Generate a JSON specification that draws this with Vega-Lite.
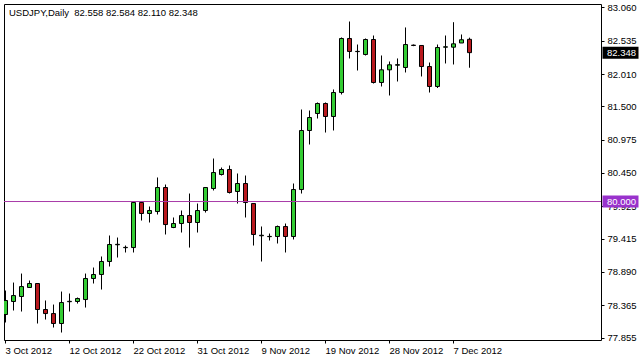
{
  "$schema": "https://vega.github.io/schema/vega-lite/v6.json",
  "width": 597,
  "height": 336,
  "autosize": {"type": "none"},
  "padding": {"left": 4, "top": 4, "right": 41, "bottom": 20},
  "background": "white",
  "config": {
    "view": {"stroke": "#000000", "strokeWidth": 1},
    "font": "Liberation Sans",
    "axis": {"labelOverlap": false, "labelBound": false}
  },
  "title": {
    "text": "USDJPY,Daily\u00a0 82.558 82.584 82.110 82.348",
    "anchor": "start", "frame": "group", "orient": "top",
    "offset": 0, "baseline": "middle", "dx": 5, "dy": 20,
    "font": "Liberation Sans", "fontSize": 9.5, "fontWeight": "normal", "color": "#000000"
  },
  "datasets": {
    "candles": [
      {"date": "2012-10-03", "open": 78.218, "high": 78.596, "low": 78.092, "close": 78.439},
      {"date": "2012-10-04", "open": 78.423, "high": 78.722, "low": 78.281, "close": 78.517},
      {"date": "2012-10-05", "open": 78.502, "high": 78.864, "low": 78.265, "close": 78.659},
      {"date": "2012-10-07", "open": 78.644, "high": 78.754, "low": 78.640, "close": 78.707},
      {"date": "2012-10-08", "open": 78.707, "high": 78.710, "low": 78.076, "close": 78.297},
      {"date": "2012-10-09", "open": 78.297, "high": 78.439, "low": 78.139, "close": 78.233},
      {"date": "2012-10-10", "open": 78.233, "high": 78.375, "low": 78.013, "close": 78.076},
      {"date": "2012-10-11", "open": 78.076, "high": 78.580, "low": 77.934, "close": 78.407},
      {"date": "2012-10-12", "open": 78.420, "high": 78.549, "low": 78.265, "close": 78.426},
      {"date": "2012-10-14", "open": 78.423, "high": 78.486, "low": 78.391, "close": 78.470},
      {"date": "2012-10-15", "open": 78.454, "high": 78.864, "low": 78.328, "close": 78.786},
      {"date": "2012-10-16", "open": 78.786, "high": 78.959, "low": 78.707, "close": 78.849},
      {"date": "2012-10-17", "open": 78.849, "high": 79.133, "low": 78.612, "close": 79.054},
      {"date": "2012-10-18", "open": 79.054, "high": 79.464, "low": 78.975, "close": 79.322},
      {"date": "2012-10-19", "open": 79.318, "high": 79.432, "low": 79.117, "close": 79.325},
      {"date": "2012-10-21", "open": 79.272, "high": 79.306, "low": 79.196, "close": 79.277},
      {"date": "2012-10-22", "open": 79.274, "high": 80.000, "low": 79.196, "close": 79.984},
      {"date": "2012-10-23", "open": 79.984, "high": 80.000, "low": 79.700, "close": 79.811},
      {"date": "2012-10-24", "open": 79.811, "high": 79.921, "low": 79.669, "close": 79.858},
      {"date": "2012-10-25", "open": 79.842, "high": 80.379, "low": 79.795, "close": 80.221},
      {"date": "2012-10-26", "open": 80.221, "high": 80.268, "low": 79.480, "close": 79.637},
      {"date": "2012-10-28", "open": 79.590, "high": 79.748, "low": 79.580, "close": 79.653},
      {"date": "2012-10-29", "open": 79.653, "high": 79.858, "low": 79.511, "close": 79.779},
      {"date": "2012-10-30", "open": 79.779, "high": 80.126, "low": 79.274, "close": 79.669},
      {"date": "2012-10-31", "open": 79.669, "high": 79.968, "low": 79.511, "close": 79.858},
      {"date": "2012-11-01", "open": 79.858, "high": 80.221, "low": 79.826, "close": 80.221},
      {"date": "2012-11-02", "open": 80.205, "high": 80.678, "low": 80.174, "close": 80.457},
      {"date": "2012-11-04", "open": 80.426, "high": 80.536, "low": 80.410, "close": 80.505},
      {"date": "2012-11-05", "open": 80.505, "high": 80.568, "low": 80.126, "close": 80.142},
      {"date": "2012-11-06", "open": 80.158, "high": 80.442, "low": 79.968, "close": 80.284},
      {"date": "2012-11-07", "open": 80.284, "high": 80.410, "low": 79.748, "close": 79.984},
      {"date": "2012-11-08", "open": 79.968, "high": 79.970, "low": 79.306, "close": 79.480},
      {"date": "2012-11-09", "open": 79.460, "high": 79.606, "low": 79.054, "close": 79.468},
      {"date": "2012-11-11", "open": 79.446, "high": 79.495, "low": 79.385, "close": 79.450},
      {"date": "2012-11-12", "open": 79.448, "high": 79.621, "low": 79.338, "close": 79.606},
      {"date": "2012-11-13", "open": 79.606, "high": 79.653, "low": 79.196, "close": 79.448},
      {"date": "2012-11-14", "open": 79.448, "high": 80.284, "low": 79.401, "close": 80.189},
      {"date": "2012-11-15", "open": 80.189, "high": 81.451, "low": 80.126, "close": 81.120},
      {"date": "2012-11-16", "open": 81.120, "high": 81.435, "low": 80.899, "close": 81.325},
      {"date": "2012-11-18", "open": 81.388, "high": 81.562, "low": 81.309, "close": 81.546},
      {"date": "2012-11-19", "open": 81.546, "high": 81.562, "low": 81.088, "close": 81.341},
      {"date": "2012-11-20", "open": 81.341, "high": 81.767, "low": 81.120, "close": 81.719},
      {"date": "2012-11-21", "open": 81.719, "high": 82.587, "low": 81.688, "close": 82.571},
      {"date": "2012-11-22", "open": 82.571, "high": 82.839, "low": 82.256, "close": 82.366},
      {"date": "2012-11-23", "open": 82.364, "high": 82.476, "low": 82.066, "close": 82.368},
      {"date": "2012-11-25", "open": 82.319, "high": 82.571, "low": 82.303, "close": 82.555},
      {"date": "2012-11-26", "open": 82.555, "high": 82.618, "low": 81.861, "close": 81.877},
      {"date": "2012-11-27", "open": 81.877, "high": 82.303, "low": 81.814, "close": 82.077},
      {"date": "2012-11-28", "open": 82.077, "high": 82.208, "low": 81.672, "close": 82.156},
      {"date": "2012-11-29", "open": 82.150, "high": 82.256, "low": 81.893, "close": 82.158},
      {"date": "2012-11-30", "open": 82.114, "high": 82.745, "low": 82.035, "close": 82.476},
      {"date": "2012-12-02", "open": 82.466, "high": 82.476, "low": 82.450, "close": 82.461},
      {"date": "2012-12-03", "open": 82.461, "high": 82.461, "low": 81.972, "close": 82.129},
      {"date": "2012-12-04", "open": 82.129, "high": 82.192, "low": 81.719, "close": 81.814},
      {"date": "2012-12-05", "open": 81.814, "high": 82.476, "low": 81.790, "close": 82.429},
      {"date": "2012-12-06", "open": 82.434, "high": 82.618, "low": 82.177, "close": 82.440},
      {"date": "2012-12-07", "open": 82.434, "high": 82.828, "low": 82.161, "close": 82.487},
      {"date": "2012-12-09", "open": 82.500, "high": 82.634, "low": 82.500, "close": 82.551},
      {"date": "2012-12-10", "open": 82.558, "high": 82.584, "low": 82.110, "close": 82.348}
    ],
    "tags": [
      {"kind": "level", "price": 80.000},
      {"kind": "bid", "price": 82.348}
    ]
  },
  "layer": [
    {
      "data": {"name": "candles"},
      "mark": {"type": "rule", "color": "#000000", "strokeWidth": 1, "clip": true},
      "encoding": {
        "x": {
          "field": "date", "type": "ordinal", "sort": null,
          "scale": {"type": "band", "range": [-2.5, 469.5], "paddingInner": 0, "paddingOuter": 0},
          "axis": {
            "values": ["2012-10-03", "2012-10-12", "2012-10-22", "2012-10-31", "2012-11-09", "2012-11-19", "2012-11-28", "2012-12-07"],
            "labelExpr": "utcFormat(toDate(datum.value), '%-d %b %Y')",
            "labelAlign": "left", "labelBaseline": "top", "labelPadding": 2, "labelAngle": 0,
            "tickSize": 3, "tickColor": "#000000", "labelColor": "#000000",
            "labelFont": "Liberation Sans", "labelFontSize": 9.5,
            "domain": false, "grid": false, "title": null,
            "labelOverlap": false, "labelBound": false, "bandPosition": 0.5
          }
        },
        "y": {
          "field": "low", "type": "quantitative",
          "scale": {"domain": [77.816, 83.115], "nice": false, "zero": false},
          "axis": {
            "orient": "right",
            "values": [83.06, 82.535, 82.01, 81.5, 80.975, 80.45, 79.925, 79.415, 78.89, 78.365, 77.855],
            "format": ".3f", "tickSize": 3, "tickColor": "#000000", "labelColor": "#000000",
            "labelFont": "Liberation Sans", "labelFontSize": 9.5, "labelPadding": 3,
            "labelAlign": "left",
            "domain": false, "grid": false, "title": null,
            "labelOverlap": false, "labelBound": false
          }
        },
        "y2": {"field": "high"}
      }
    },
    {
      "data": {"name": "candles"},
      "mark": {"type": "bar", "size": 4, "stroke": "#000000", "strokeWidth": 1, "clip": true},
      "encoding": {
        "x": {"field": "date", "type": "ordinal", "sort": null},
        "y": {
          "field": "open", "type": "quantitative",
          "axis": {
            "orient": "right",
            "values": [83.06, 82.535, 82.01, 81.5, 80.975, 80.45, 79.925, 79.415, 78.89, 78.365, 77.855],
            "format": ".3f", "tickSize": 3, "tickColor": "#000000", "labelColor": "#000000",
            "labelFont": "Liberation Sans", "labelFontSize": 9.5, "labelPadding": 3,
            "labelAlign": "left",
            "domain": false, "grid": false, "title": null,
            "labelOverlap": false, "labelBound": false
          }
        },
        "y2": {"field": "close"},
        "fill": {
          "condition": {"test": "datum.close >= datum.open", "value": "#33CC33"},
          "value": "#B8191E"
        }
      }
    },
    {
      "data": {"values": [{"level": 80.0}]},
      "mark": {"type": "rule", "color": "#A83AA8", "strokeWidth": 1},
      "encoding": {
        "y": {
          "field": "level", "type": "quantitative",
          "axis": {
            "orient": "right",
            "values": [83.06, 82.535, 82.01, 81.5, 80.975, 80.45, 79.925, 79.415, 78.89, 78.365, 77.855],
            "format": ".3f", "tickSize": 3, "tickColor": "#000000", "labelColor": "#000000",
            "labelFont": "Liberation Sans", "labelFontSize": 9.5, "labelPadding": 3,
            "labelAlign": "left",
            "domain": false, "grid": false, "title": null,
            "labelOverlap": false, "labelBound": false
          }
        }
      }
    },
    {
      "data": {"name": "tags"},
      "mark": {"type": "tick", "orient": "horizontal", "size": 36, "thickness": 12, "opacity": 1, "clip": false},
      "encoding": {
        "x": {"value": {"expr": "width + 19.5"}},
        "y": {
          "field": "price", "type": "quantitative",
          "axis": {
            "orient": "right",
            "values": [83.06, 82.535, 82.01, 81.5, 80.975, 80.45, 79.925, 79.415, 78.89, 78.365, 77.855],
            "format": ".3f", "tickSize": 3, "tickColor": "#000000", "labelColor": "#000000",
            "labelFont": "Liberation Sans", "labelFontSize": 9.5, "labelPadding": 3,
            "labelAlign": "left",
            "domain": false, "grid": false, "title": null,
            "labelOverlap": false, "labelBound": false
          }
        },
        "color": {
          "field": "kind", "type": "nominal",
          "scale": {"domain": ["level", "bid"], "range": ["#9932CC", "#000000"]},
          "legend": null
        }
      }
    },
    {
      "data": {"name": "tags"},
      "mark": {"type": "text", "align": "left", "baseline": "middle", "font": "Liberation Sans", "fontSize": 9.5, "color": "#FFFFFF", "clip": false},
      "encoding": {
        "x": {"value": {"expr": "width + 6"}},
        "y": {
          "field": "price", "type": "quantitative",
          "axis": {
            "orient": "right",
            "values": [83.06, 82.535, 82.01, 81.5, 80.975, 80.45, 79.925, 79.415, 78.89, 78.365, 77.855],
            "format": ".3f", "tickSize": 3, "tickColor": "#000000", "labelColor": "#000000",
            "labelFont": "Liberation Sans", "labelFontSize": 9.5, "labelPadding": 3,
            "labelAlign": "left",
            "domain": false, "grid": false, "title": null,
            "labelOverlap": false, "labelBound": false
          }
        },
        "text": {"field": "price", "type": "quantitative", "format": ".3f"}
      }
    }
  ]
}
